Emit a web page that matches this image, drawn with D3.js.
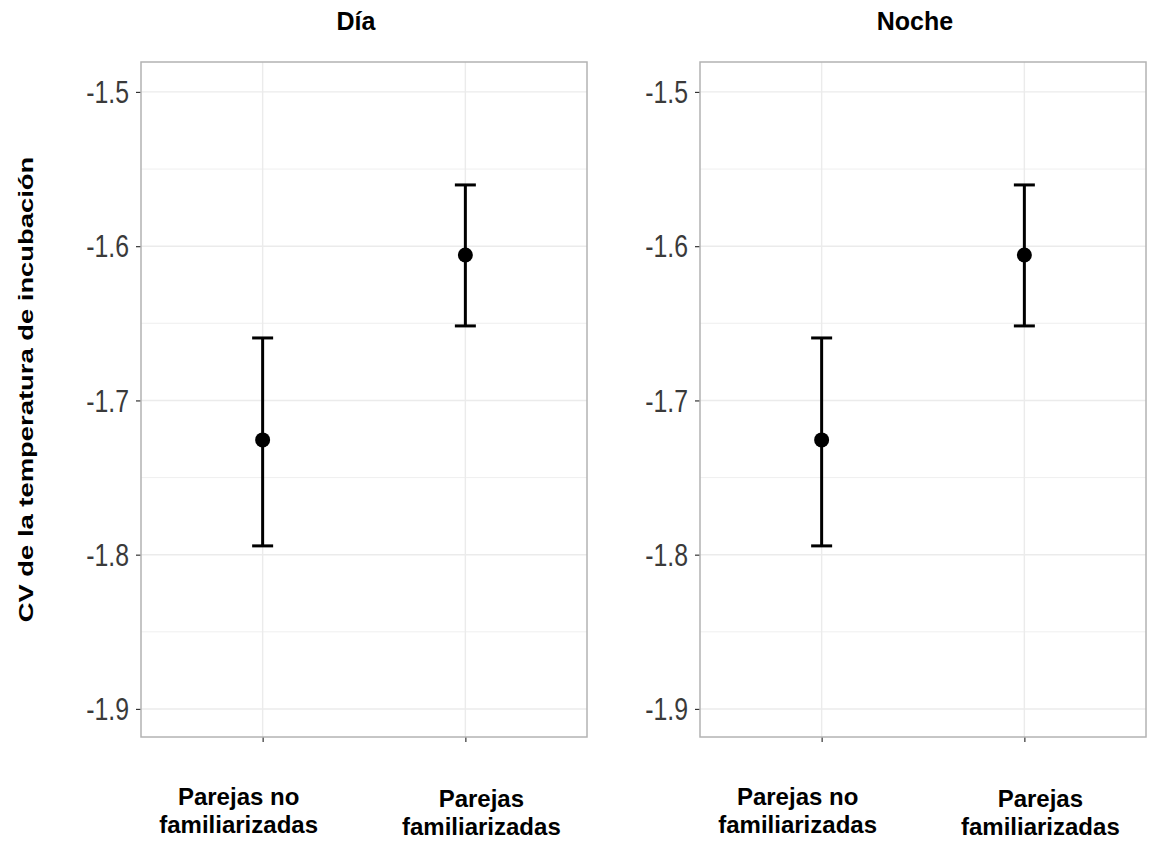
<!DOCTYPE html>
<html>
<head>
<meta charset="utf-8">
<script src="https://d3js.org/d3.v7.min.js"></script>
<style>
  body { margin: 0; background: #fff; }
  svg { font-family: "Liberation Sans", Arial, sans-serif; }
</style>
</head>
<body>
<div id="wrapper"></div>
<script>
// facets, groups and estimated values
const panels = ["Día", "Noche"];
const groups = ["Parejas no familiarizadas", "Parejas familiarizadas"];
const groupLines = [["Parejas no", "familiarizadas"], ["Parejas", "familiarizadas"]];
const means = [-1.7256, -1.6057];
const lower = [-1.7943, -1.6517];
const upper = [-1.6595, -1.5603];
const yTicks = [-1.5, -1.6, -1.7, -1.8, -1.9];

function drawChart() {
  const dimensions = {
    width: 1152,
    height: 841,
    panelTop: 62,
    panelBottom: 737,
    panelLefts: [141, 700],
    panelWidth: 446,
  };

  const wrapper = d3.select("#wrapper")
    .append("svg")
    .attr("width", dimensions.width)
    .attr("height", dimensions.height);

  const yScale = d3.scaleLinear()
    .domain([-1.9182, -1.4806])
    .range([dimensions.panelBottom, dimensions.panelTop]);

  // y axis title (the picture is stretched along its length)
  wrapper.append("text")
    .attr("transform", `translate(33, ${(dimensions.panelTop + dimensions.panelBottom) / 2 - 10}) rotate(-90) scale(1.37, 1)`)
    .attr("text-anchor", "middle")
    .attr("font-size", 20)
    .attr("font-weight", "bold")
    .attr("fill", "#000")
    .text("CV de la temperatura de incubación");

  panels.forEach((name, i) => {
    const left = dimensions.panelLefts[i];
    const h = dimensions.panelBottom - dimensions.panelTop;

    const xScale = d3.scalePoint()
      .domain(groups)
      .range([0, dimensions.panelWidth])
      .padding(0.6);

    const bounds = wrapper.append("g")
      .attr("transform", `translate(${left}, 0)`);

    // strip title
    bounds.append("text")
      .attr("x", dimensions.panelWidth / 2 - 8)
      .attr("y", 30)
      .attr("text-anchor", "middle")
      .attr("font-size", 25)
      .attr("font-weight", "bold")
      .text(name);

    // grid lines (major + minor)
    const minor = d3.range(-1.9, -1.48, 0.05);
    bounds.selectAll(".gy")
      .data(minor)
      .enter().append("line")
      .attr("x1", 0).attr("x2", dimensions.panelWidth)
      .attr("y1", d => yScale(d)).attr("y2", d => yScale(d))
      .attr("stroke", "#ebebeb")
      .attr("stroke-width", (d, j) => j % 2 === 0 ? 1.4 : 0.8);

    bounds.selectAll(".gx")
      .data(groups)
      .enter().append("line")
      .attr("x1", d => xScale(d)).attr("x2", d => xScale(d))
      .attr("y1", dimensions.panelTop).attr("y2", dimensions.panelBottom)
      .attr("stroke", "#ebebeb")
      .attr("stroke-width", 1.4);

    // y ticks
    const yAxis = d3.axisLeft(yScale)
      .tickValues(yTicks)
      .tickSize(5)
      .tickFormat("");
    const yg = bounds.append("g").call(yAxis);
    yg.select(".domain").remove();
    yg.selectAll("line").attr("stroke", "#333").attr("stroke-width", 1.2);

    // y tick labels, condensed like the picture
    bounds.selectAll(".ylab")
      .data(yTicks)
      .enter().append("text")
      .attr("transform", d => `translate(-12, ${yScale(d)}) scale(0.8, 1)`)
      .attr("dy", "0.36em")
      .attr("text-anchor", "end")
      .attr("font-size", 31)
      .attr("fill", "#3a3a3a")
      .text(d => d3.format(".1f")(d).replace("−", "-"));

    // x ticks
    const xAxis = d3.axisBottom(xScale).tickSize(5).tickFormat("");
    const xg = bounds.append("g")
      .attr("transform", `translate(0, ${dimensions.panelBottom})`)
      .call(xAxis);
    xg.select(".domain").remove();
    xg.selectAll("line").attr("stroke", "#333").attr("stroke-width", 1.2);

    // x labels
    const labelShift = [-24, 16];
    groups.forEach((g, j) => {
      const cx = xScale(g) + labelShift[j];
      const t = bounds.append("text")
        .attr("x", cx)
        .attr("y", 805 + j * 2)
        .attr("text-anchor", "middle")
        .attr("font-size", 24)
        .attr("font-weight", "bold")
        .attr("fill", "#000");
      groupLines[j].forEach((line, k) => {
        t.append("tspan")
          .attr("x", cx)
          .attr("dy", k === 0 ? 0 : 28)
          .text(line);
      });
    });

    // panel border
    bounds.append("rect")
      .attr("x", 0).attr("y", dimensions.panelTop)
      .attr("width", dimensions.panelWidth).attr("height", h)
      .attr("fill", "none")
      .attr("stroke", "#b3b3b3")
      .attr("stroke-width", 1.5);

    // error bars
    const capW = 10.5;
    groups.forEach((g, j) => {
      const x = xScale(g);
      const eb = bounds.append("g")
        .attr("stroke", "#000")
        .attr("stroke-width", 3);
      eb.append("line")
        .attr("x1", x).attr("x2", x)
        .attr("y1", yScale(lower[j])).attr("y2", yScale(upper[j]));
      eb.append("line")
        .attr("x1", x - capW).attr("x2", x + capW)
        .attr("y1", yScale(lower[j])).attr("y2", yScale(lower[j]));
      eb.append("line")
        .attr("x1", x - capW).attr("x2", x + capW)
        .attr("y1", yScale(upper[j])).attr("y2", yScale(upper[j]));
    });

    bounds.selectAll(".pt")
      .data(groups)
      .enter().append("circle")
      .attr("cx", d => xScale(d))
      .attr("cy", (d, j) => yScale(means[j]))
      .attr("r", 7.5)
      .attr("fill", "#000");
  });
}

drawChart();
</script>
</body>
</html>
